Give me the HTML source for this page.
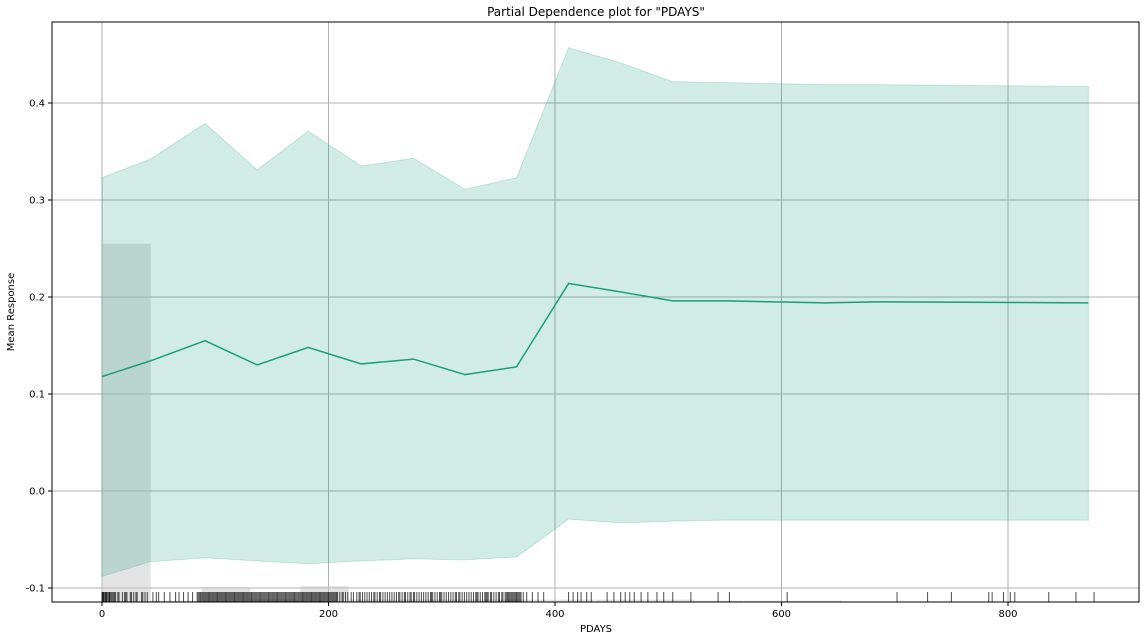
<!DOCTYPE html>
<html><head><meta charset="utf-8">
<style>
body{margin:0;background:#fff;}
svg{display:block;font-family:"DejaVu Sans","Liberation Sans",sans-serif;}
</style></head>
<body>
<svg id="chart" width="1144" height="640">
<rect width="1144" height="640" fill="#fff"/>
<text x="596" y="16" text-anchor="middle" font-size="12">Partial Dependence plot for "PDAYS"</text>
<text x="596" y="632" text-anchor="middle" font-size="10">PDAYS</text>
<text transform="translate(14,312) rotate(-90)" text-anchor="middle" font-size="10">Mean Response</text>
<g id="grid"></g><g id="hist"></g><g id="band"></g><g id="rug"></g><g id="axes"></g>
</svg>
<script>
const xs=[0,42.4,91,137,182,229,275,320.5,366,412,459,504,551,639,683,871];
const meanVals=[0.118,0.134,0.155,0.130,0.148,0.131,0.136,0.120,0.128,0.214,0.205,0.196,0.196,0.194,0.195,0.194];
const upperVals=[0.323,0.342,0.379,0.331,0.371,0.335,0.343,0.311,0.323,0.457,0.441,0.422,0.421,0.419,0.419,0.417];
const lowerVals=[-0.088,-0.073,-0.069,-0.072,-0.075,-0.072,-0.070,-0.071,-0.068,-0.029,-0.033,-0.031,-0.030,-0.030,-0.030,-0.030];
const histStart=[0,42,88,131,175,218,262,305,349,392,436,480,523,567,610];
const histTop=[0.255,-0.113,-0.099,-0.112,-0.098,-0.112,-0.112,-0.112,-0.112,-0.112,-0.112,-0.112,-0.113,-0.113,-0.113];
const histWidth=43;
const rugVals=[0,0.5,1,1.5,2,3,3.5,4,5,6,6.5,7,8,9,10,11,12,14,15,18,20,21,22,25,26,28,30,31,35,36,38,40,45,48,50,55,60,65,68,72,76,80,84,85,86,87,88,89,90,91,92,93,94,95,96,97,98,99,100,101,102,103,104,105,106,107,108,109,110,111,112,113,114,115,116,117,118,119,120,121,122,123,124,125,126,127,128,129,130,131,132,133,134,135,136,137,138,139,140,141,142,143,144,145,146,147,148,149,150,151,152,153,154,155,156,157,158,159,160,161,162,163,164,165,166,167,168,169,170,171,172,173,174,175,176,177,178,179,180,181,182,183,184,185,186,187,188,189,190,191,192,193,194,195,196,197,198,199,200,201,202,203,204,205,206,207,208,210,212,213,215,217,220,222,225,227,228,230,232,234,236,238,240,241,243,245,246,248,250,252,254,256,258,260,262,263,265,267,268,270,272,273,275,276,278,280,282,284,286,288,290,291,292,294,296,298,299,300,302,304,306,308,310,312,313,315,316,318,320,322,324,326,328,330,331,332,334,336,338,339,340,341,343,344,346,348,350,351,353,354,356,357,358,359,360,361,362,363,364,365,366,367,368,369,370,372,375,380,385,390,412,416,420,423,428,432,446,452,458,462,466,470,476,482,490,496,504,520,544,554,605,702,729,750,783,786,796,802,806,836,860,876];
const L=52,R=1139,T=22,B=602;
const X=v=>102+(v)*(226.5/200);
const Y=v=>491-v*970;
const ns="http://www.w3.org/2000/svg";
function mk(tag,attrs,parent){const e=document.createElementNS(ns,tag);for(const k in attrs)e.setAttribute(k,attrs[k]);document.getElementById(parent).appendChild(e);return e;}
const xt=[0,200,400,600,800],yt=[-0.1,0,0.1,0.2,0.3,0.4];
xt.forEach(t=>{const g=mk('line',{x1:X(t),x2:X(t),y1:T,y2:B,stroke:'#b0b0b0','stroke-width':1},'grid');


const tk=mk('line',{x1:X(t),x2:X(t),y1:B,y2:B+4,stroke:'#000'},'axes');


const lb=mk('text',{x:X(t),y:B+15,'text-anchor':'middle','font-size':10},'axes');lb.textContent=t;

});
yt.forEach(t=>{const g=mk('line',{x1:L,x2:R,y1:Y(t),y2:Y(t),stroke:'#b0b0b0','stroke-width':1},'grid');


const tk=mk('line',{x1:L-4,x2:L,y1:Y(t),y2:Y(t),stroke:'#000'},'axes');


const lb=mk('text',{x:L-7,y:Y(t)+3.5,'text-anchor':'end','font-size':10},'axes');lb.textContent=t.toFixed(1);

});
histStart.forEach((s,i)=>{const top=Math.max(T,Y(histTop[i]));const r=mk('rect',{x:X(s),y:top,width:X(s+histWidth)-X(s),height:B-top,fill:'#c8c8c8','fill-opacity':0.5},'hist');

});
let d='M'+xs.map((x,i)=>X(x)+','+Y(upperVals[i])).join('L');
for(let i=xs.length-1;i>=0;i--)d+='L'+X(xs[i])+','+Y(lowerVals[i]);
const band=mk('path',{d:d+'Z',fill:'#1b9e77','fill-opacity':0.2,stroke:'#1b9e77','stroke-opacity':0.2},'band');


const line=mk('polyline',{points:xs.map((x,i)=>X(x)+','+Y(meanVals[i])).join(' '),fill:'none',stroke:'#1b9e77','stroke-width':1.5},'band');


rugVals.forEach(v=>{const r=mk('line',{x1:X(v),x2:X(v),y1:592,y2:B,stroke:'#000','stroke-opacity':0.7,'stroke-width':1},'rug');

});
const fr=mk('rect',{x:L,y:T,width:R-L,height:B-T,fill:'none',stroke:'#000','stroke-width':1},'axes');


</script>
</body></html>
